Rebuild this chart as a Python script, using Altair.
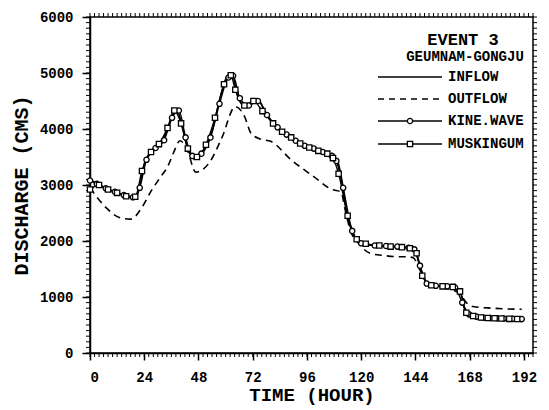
import altair as alt
import pandas as pd
import numpy as np

# ---------------- data ----------------
inflow_hours = [0, 5, 12, 18, 20, 21.5, 24, 27, 31.5, 34.8, 38.3, 40.8, 43.3, 46.8, 49.8, 53.8, 57.8, 60.8, 62.8, 65.3, 68.3, 71.3, 74.3, 77.8, 82, 88, 93, 99, 104, 109.5, 111.5, 113.8, 116.5, 119.5, 129, 138, 143.5, 145.3, 148, 150, 160, 163.7, 166, 168.7, 175, 185, 191]
inflow_cms = [3100, 2980, 2860, 2790, 2780, 2890, 3380, 3600, 3730, 4050, 4350, 4050, 3640, 3460, 3600, 3930, 4590, 4950, 4980, 4590, 4410, 4460, 4520, 4290, 4050, 3880, 3730, 3640, 3570, 3430, 3070, 2450, 2125, 1960, 1910, 1890, 1860, 1640, 1320, 1200, 1180, 1110, 750, 660, 625, 610, 605]

outflow_hours = [0, 7, 13, 18, 23, 27, 31, 34.5, 37, 39.8, 42.8, 46.8, 52.8, 58.3, 64.3, 68.3, 71.3, 75.5, 80, 89, 99, 107, 111, 113, 115, 119, 124, 130, 136, 140, 143, 146, 149, 153, 158, 163.5, 166.5, 169.5, 178, 191]
outflow_cms = [2950, 2600, 2420, 2390, 2600, 2890, 3130, 3340, 3580, 3790, 3650, 3230, 3400, 3840, 4400, 4230, 3920, 3820, 3780, 3450, 3150, 2920, 2880, 2540, 2210, 1950, 1780, 1740, 1720, 1720, 1700, 1480, 1260, 1170, 1150, 1060, 900, 830, 800, 780]

kine_hours = [0, 3, 7, 11, 15, 19, 22, 25, 29, 32.8, 36.3, 39.3, 42.3, 45.3, 49.3, 53.3, 57.3, 61.3, 63.3, 66.3, 70.3, 74.3, 78.3, 83, 87, 91, 95, 99, 103, 107, 109, 112, 116, 120, 126, 131, 136, 141, 143.5, 146, 149, 153, 158, 161.5, 164.7, 167.7, 171, 174, 177, 180, 183, 187, 191]
kine_cms = [3080, 3020, 2940, 2880, 2820, 2780, 2950, 3450, 3660, 3800, 4200, 4330, 3850, 3520, 3560, 3850, 4450, 4920, 4950, 4550, 4420, 4500, 4250, 4030, 3900, 3790, 3700, 3650, 3590, 3520, 3430, 2950, 2180, 1960, 1920, 1910, 1900, 1880, 1850, 1560, 1240, 1200, 1190, 1170, 900, 690, 650, 630, 625, 620, 615, 610, 605]

musk_hours = [0, 4, 8, 12, 16, 20, 23, 27, 30.5, 34.3, 37.3, 40.3, 43.3, 47.3, 51.3, 55.3, 59.3, 62.3, 64.3, 68.3, 72.3, 76.3, 81, 85, 89, 93, 97, 101, 105, 107.5, 110, 114, 118, 122, 128, 133, 138, 141.5, 144.5, 147, 151, 156, 160.5, 163.7, 166.5, 169.5, 173, 176, 179, 182, 185.5, 189]
musk_cms = [2920, 3000, 2920, 2860, 2800, 2790, 3250, 3590, 3730, 4020, 4330, 4100, 3650, 3500, 3720, 4200, 4800, 4960, 4700, 4420, 4500, 4320, 4100, 3950, 3850, 3740, 3670, 3610, 3560, 3480, 3200, 2450, 2030, 1950, 1920, 1900, 1890, 1870, 1780, 1380, 1210, 1190, 1180, 1100, 720, 660, 635, 625, 620, 615, 610, 607]

x_major = [0, 24, 48, 72, 96, 120, 144, 168, 192]
y_major = [0, 1000, 2000, 3000, 4000, 5000, 6000]
x_minor = list(range(0, 197, 2))
y_minor = list(range(0, 6001, 100))

event_title = "EVENT 3"
station = "GEUMNAM-GONGJU"
legend_labels = ["INFLOW", "OUTFLOW", "KINE.WAVE", "MUSKINGUM"]

# ---------------- layout ----------------
W, H = 443, 336
FONT = "Liberation Mono"

xs = alt.Scale(domain=[0, 196], nice=False, zero=False)
ys = alt.Scale(domain=[0, 6000], nice=False, zero=False)

def df(h, v):
    return pd.DataFrame({"hour": h, "cms": v})

x_axis = alt.Axis(values=x_major, title="TIME (HOUR)", grid=False, tickSize=7, tickWidth=1.5,
                  tickColor="black", domainColor="black", domainWidth=1.5, labelFont=FONT,
                  labelFontSize=14, labelFontWeight="bold", labelColor="black", labelPadding=10,
                  titleFont=FONT, titleFontSize=19, titleFontWeight="bold", titleColor="black",
                  titlePadding=1)
y_axis = alt.Axis(values=y_major, format="d", title="DISCHARGE (CMS)", grid=False, tickSize=8, tickWidth=1.5,
                  tickColor="black", domainColor="black", domainWidth=1.5, labelFont=FONT,
                  labelFontSize=14, labelFontWeight="bold", labelColor="black", labelPadding=9,
                  titleFont=FONT, titleFontSize=20, titleFontWeight="bold", titleColor="black",
                  titlePadding=8)

X = alt.X("hour:Q", scale=xs, axis=x_axis)
Y = alt.Y("cms:Q", scale=ys, axis=y_axis)

inflow = alt.Chart(df(inflow_hours, inflow_cms)).mark_line(
    color="black", strokeWidth=1.6, interpolate="monotone").encode(x=X, y=Y)

outflow = alt.Chart(df(outflow_hours, outflow_cms)).mark_line(
    color="black", strokeWidth=1.6, strokeDash=[7, 5], interpolate="monotone").encode(x=X, y=Y)

kine_line = alt.Chart(df(kine_hours, kine_cms)).mark_line(
    color="black", strokeWidth=1.4, interpolate="monotone").encode(x=X, y=Y)
kine_pts = alt.Chart(df(kine_hours, kine_cms)).mark_point(
    shape="circle", size=28, filled=True, fill="white", stroke="black", strokeWidth=1.3, opacity=1).encode(x=X, y=Y)

musk_line = alt.Chart(df(musk_hours, musk_cms)).mark_line(
    color="black", strokeWidth=1.4, interpolate="monotone").encode(x=X, y=Y)
musk_pts = alt.Chart(df(musk_hours, musk_cms)).mark_point(
    shape="square", size=28, filled=True, fill="white", stroke="black", strokeWidth=1.3, opacity=1).encode(x=X, y=Y)

# minor ticks on all four sides
xm = pd.DataFrame({"hour": x_minor})
ym = pd.DataFrame({"cms": y_minor})
tick_style = dict(color="black", strokeWidth=1)
bottom_minor = alt.Chart(xm).mark_rule(**tick_style).encode(
    x=X, y=alt.value(H), y2=alt.value(H + 4))
top_minor = alt.Chart(xm).mark_rule(**tick_style).encode(
    x=X, y=alt.value(0), y2=alt.value(-4))
left_minor = alt.Chart(ym).mark_rule(**tick_style).encode(
    y=Y, x=alt.value(0), x2=alt.value(-4))
right_minor = alt.Chart(ym).mark_rule(**tick_style).encode(
    y=Y, x=alt.value(W), x2=alt.value(W + 4))

# legend (drawn inside the plot, top right)
one = alt.Data(values=[{}])
LX0, LX1, TX = 288, 352, 358
LY = [60, 82, 104, 127]
leg = []
leg.append(alt.Chart(one).mark_text(text=event_title, font=FONT, fontSize=17, fontWeight="bold",
                                    color="black", align="center", baseline="middle").encode(
    x=alt.value(373), y=alt.value(23)))
leg.append(alt.Chart(one).mark_text(text=station, font=FONT, fontSize=14, fontWeight="bold",
                                    color="black", align="center", baseline="middle").encode(
    x=alt.value(375), y=alt.value(40)))
dashes = [None, [6, 5], None, None]
for lab, yy, dsh in zip(legend_labels, LY, dashes):
    rk = dict(color="black", strokeWidth=1.3)
    if dsh:
        rk["strokeDash"] = dsh
    leg.append(alt.Chart(one).mark_rule(**rk).encode(
        x=alt.value(LX0), x2=alt.value(LX1), y=alt.value(yy)))
    leg.append(alt.Chart(one).mark_text(text=lab, font=FONT, fontSize=14, fontWeight="bold",
                                        color="black", align="left", baseline="middle").encode(
        x=alt.value(TX), y=alt.value(yy)))
for yy, shp in [(LY[2], "circle"), (LY[3], "square")]:
    leg.append(alt.Chart(one).mark_point(shape=shp, size=28, filled=True, fill="white", stroke="black",
                                         strokeWidth=1.3, opacity=1).encode(
        x=alt.value((LX0 + LX1) / 2), y=alt.value(yy)))

chart = alt.layer(
    bottom_minor, top_minor, left_minor, right_minor,
    outflow, kine_line, musk_line, inflow, kine_pts, musk_pts, *leg
).properties(
    width=W, height=H,
    padding={"left": 82, "top": 9, "right": 8, "bottom": 57},
    autosize="none",
    background="white",
).configure_view(stroke="black", strokeWidth=1.5)

chart.save("out.html", embed_options={"renderer": "svg", "actions": False})
